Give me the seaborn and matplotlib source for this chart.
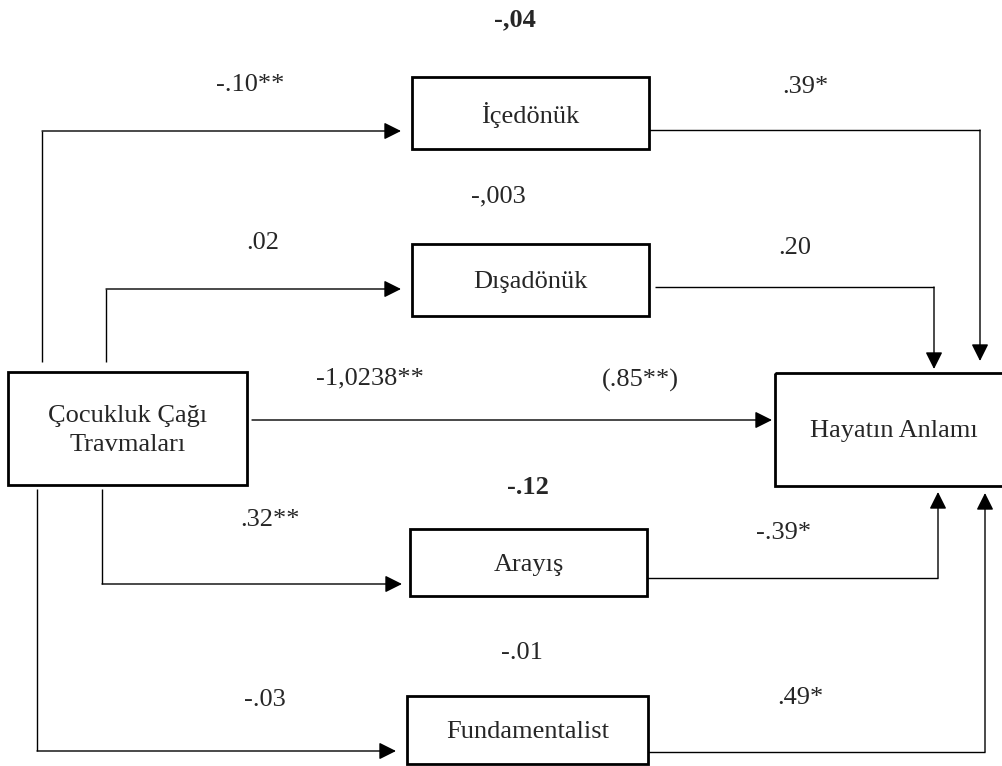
import matplotlib
matplotlib.use('Agg')
import matplotlib.pyplot as plt
import seaborn as sns
from matplotlib.patches import Rectangle

sns.set_theme(style="white")
plt.rcParams['font.family'] = ['Liberation Serif', 'DejaVu Serif']

# Değişkenler (kutular)
nodes = ['Çocukluk Çağı\nTravmaları', 'İçedönük', 'Dışadönük', 'Arayış', 'Fundamentalist', 'Hayatın Anlamı']

# Yol katsayıları
a_paths = ['-.10**', '.02', '.32**', '-.03']          # travma -> aracılar
b_paths = ['.39*', '.20', '-.39*', '.49*']            # aracılar -> hayatın anlamı
indirect = ['-,04', '-,003', '-.12', '-.01']          # dolaylı etkiler
total_direct = ['-1,0238**', '(.85**)']
bold_indirect = [True, False, True, False]

# Yerleşim (piksel koordinatları)
boxes = [(8, 372, 247, 485), (412, 77, 649, 149), (412, 244, 649, 316),
         (410, 529, 647, 596), (407, 696, 648, 764), (775, 373, 1012, 486)]

a_lines = [[(42, 362), (42, 131), (401, 131)],
           [(106, 362), (106, 289), (401, 289)],
           [(102, 489), (102, 584), (402, 584)],
           [(37, 489), (37, 751), (396, 751)]]
b_lines = [[(649, 130), (980, 130), (980, 361)],
           [(655, 287), (934, 287), (934, 369)],
           [(647, 578), (938, 578), (938, 492)],
           [(648, 752), (985, 752), (985, 493)]]
c_line = [(252, 420), (772, 420)]

a_text = [(250, 85), (263, 243), (270, 520), (265, 700)]
b_text = [(805, 87), (795, 248), (784, 533), (800, 698)]
ind_text = [(515, 20), (498, 196), (528, 488), (522, 653)]
c_text = [(370, 378), (640, 380)]

fig = plt.figure(figsize=(10.03, 7.66), dpi=100)
ax = fig.add_axes([0, 0, 1, 1])
ax.set_xlim(0, 1003)
ax.set_ylim(766, 0)
ax.axis('off')

fs = 19

for (x0, y0, x1, y1), name in zip(boxes, nodes):
    ax.add_patch(Rectangle((x0, y0), x1 - x0, y1 - y0, fill=False, ec='black', lw=2.0))
    ax.text((x0 + x1) / 2, (y0 + y1) / 2 + 2, name, ha='center', va='center',
            fontsize=fs, linespacing=1.45)


def draw_path(pts):
    xs = [p[0] for p in pts[:-1]]
    ys = [p[1] for p in pts[:-1]]
    if len(pts) > 2:
        ax.plot(xs, ys, color='black', lw=1.0, solid_capstyle='butt')
    ax.annotate('', xy=pts[-1], xytext=pts[-2],
                arrowprops=dict(arrowstyle='-|>', color='black', lw=1.0,
                                mutation_scale=26, shrinkA=0, shrinkB=0))


for pts in a_lines + b_lines + [c_line]:
    draw_path(pts)

for (x, y), s in zip(a_text, a_paths):
    ax.text(x, y, s, ha='center', va='center', fontsize=fs)
for (x, y), s in zip(b_text, b_paths):
    ax.text(x, y, s, ha='center', va='center', fontsize=fs)
for (x, y), s, b in zip(ind_text, indirect, bold_indirect):
    ax.text(x, y, s, ha='center', va='center', fontsize=fs,
            fontweight='bold' if b else 'normal')
for (x, y), s in zip(c_text, total_direct):
    ax.text(x, y, s, ha='center', va='center', fontsize=fs)

fig.savefig('out.png', dpi=100, facecolor='white')
